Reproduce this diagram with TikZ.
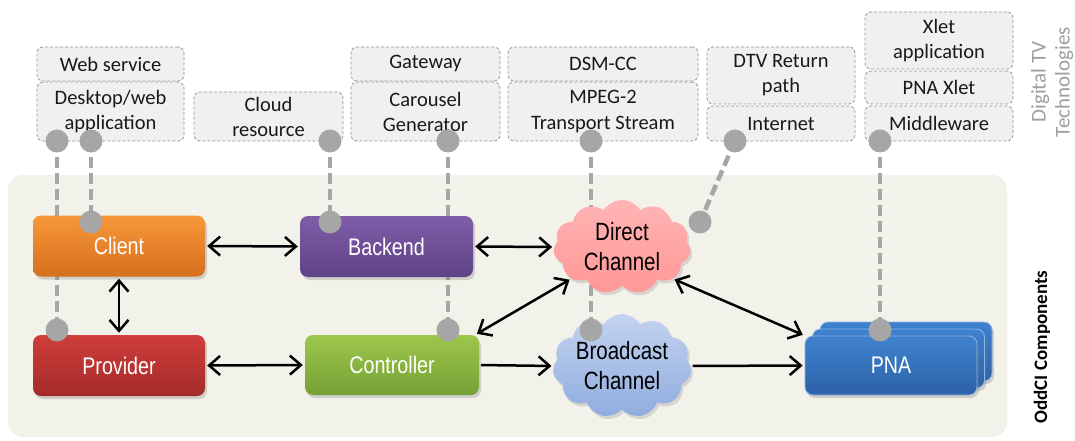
\documentclass[tikz,border=0pt]{standalone}
\usepackage{fontspec}
\setmainfont{Carlito}
\newfontfamily\narrowfont[FakeStretch=0.82]{Liberation Sans}
\usetikzlibrary{arrows.meta,shapes.symbols,shadows}
\definecolor{bgc}{HTML}{F2F1EA}
\definecolor{dotc}{HTML}{A6A6A6}
\definecolor{boxf}{HTML}{F0F0F0}
\definecolor{boxd}{HTML}{959595}
\definecolor{clT}{HTML}{F8973A}\definecolor{clB}{HTML}{D5701E}
\definecolor{beT}{HTML}{7F5DA9}\definecolor{beB}{HTML}{5F4285}
\definecolor{prT}{HTML}{CF3E3B}\definecolor{prB}{HTML}{A32A28}
\definecolor{coT}{HTML}{9DC74B}\definecolor{coB}{HTML}{76A035}
\definecolor{pnT}{HTML}{3F82CE}\definecolor{pnB}{HTML}{2C62A8}
\definecolor{diT}{HTML}{FFB4B4}\definecolor{diB}{HTML}{FF9797}
\definecolor{brT}{HTML}{C3D3EF}\definecolor{brB}{HTML}{90ACDF}
\tikzset{
  techbox/.style={draw=boxd, fill=boxf, line width=0.8pt, dash pattern=on 3pt off 2pt,
    rounded corners=6pt, align=center, font=\fontsize{20.5}{25}\selectfont, text=black!90, inner sep=0pt},
  comp/.style={rounded corners=8pt, minimum width=172, minimum height=61, inner sep=0pt,
    font=\narrowfont\fontsize{24}{29}\selectfont, text=white,
    drop shadow={opacity=0.3, shadow xshift=2pt, shadow yshift=-3pt}},
  chan/.style={cloud, cloud puffs=11, cloud puff arc=115, aspect=1.5, inner sep=0pt,
    minimum width=137, minimum height=94, align=center,
    font=\narrowfont\fontsize{25}{30}\selectfont, text=black,
    drop shadow={opacity=0.25, shadow xshift=2pt, shadow yshift=-3pt}},
  dot/.style={circle, fill=dotc, minimum size=23, inner sep=0pt},
  link/.style={draw=dotc, line width=4.5pt, dash pattern=on 11pt off 5pt},
  barb/.tip={Straight Barb[length=11pt,width=19pt]},
  arr/.style={line width=2.5pt, black, shorten <=2pt, shorten >=2pt},
}
\begin{document}
\begin{tikzpicture}[x=1pt,y=-1pt]
\useasboundingbox (0,0) rectangle (1075,441);
% background
\fill[bgc, rounded corners=15pt] (8,175) rectangle (1007,437);
% top technology boxes
\node[techbox, minimum width=147, minimum height=34] (web) at (110.5,64) {Web service};
\node[techbox, minimum width=147, minimum height=59] (desk) at (110.5,111.5) {Desktop/web\\application};
\node[techbox, minimum width=149, minimum height=49] (cres) at (268.5,116.5) {Cloud\\resource};
\node[techbox, minimum width=149, minimum height=34] (gate) at (425.5,64) {Gateway};
\node[techbox, minimum width=149, minimum height=59] (car) at (425.5,111.5) {Carousel\\Generator};
\node[techbox, minimum width=190, minimum height=34] (dsm) at (603,64) {DSM-CC};
\node[techbox, minimum width=190, minimum height=59] (mpeg) at (603,111.5) {MPEG-2\\Transport Stream};
\node[techbox, minimum width=148, minimum height=57] (dtv) at (781,75.5) {DTV Return\\path};
\node[techbox, minimum width=148, minimum height=35] (inet) at (781,123.5) {Internet};
\node[techbox, minimum width=148, minimum height=57] (xlet) at (939,40.5) {Xlet\\application};
\node[techbox, minimum width=148, minimum height=33] (pnax) at (939,87.5) {PNA Xlet};
\node[techbox, minimum width=148, minimum height=35] (mid) at (939,123.5) {Middleware};
% side labels
\node[rotate=90, align=center, text=black!38, font=\fontsize{21}{24}\selectfont] (dtvlab) at (1052,82) {Digital TV\\Technologies};
\node[rotate=90, font=\bfseries\fontsize{19}{23}\selectfont] (oddlab) at (1042,347) {OddCI Components};
% dot anchors
\coordinate (t1) at (57,141); \coordinate (b1) at (57,330);
\coordinate (t2) at (91,141); \coordinate (b2) at (91,222);
\coordinate (t3) at (330,141); \coordinate (b3) at (330,222);
\coordinate (t4) at (448,141); \coordinate (b4) at (448,330);
\coordinate (t5) at (591,141); \coordinate (b5) at (591,330);
\coordinate (t6) at (735,141); \coordinate (b6) at (700,222);
\coordinate (t7) at (880,141); \coordinate (b7) at (880,330);
\foreach \i in {1,...,7} { \draw[link] (t\i) -- (b\i); }
% components
\node[comp, top color=clT, bottom color=clB] (client) at (119,246) {Client};
\node[comp, top color=beT, bottom color=beB, minimum width=173] (backend) at (386.5,246.5) {Backend};
\node[comp, top color=prT, bottom color=prB] (provider) at (119,365.5) {Provider};
\node[comp, top color=coT, bottom color=coB, minimum width=174, minimum height=60] (controller) at (392,365) {Controller};
\node[chan, top color=diT, bottom color=diB] (direct) at (622,247) {Direct\\Channel};
\node[chan, top color=brT, bottom color=brB, minimum height=96] (broadcast) at (622,366) {Broadcast\\Channel};
\node[comp, top color=pnT, bottom color=pnB, draw=pnT!60!white, line width=0.8pt, minimum height=59] (pnaback) at (906,351.5) {};
\node[comp, top color=pnT, bottom color=pnB, draw=pnT!60!white, line width=0.8pt, minimum height=59] (pnamid) at (898.5,358.5) {};
\node[comp, top color=pnT, bottom color=pnB, draw=pnT!60!white, line width=0.8pt, minimum height=59] (pna) at (891,365.5) {PNA};
% dots
\foreach \i in {1,...,7} { \node[dot] (dt\i) at (t\i) {}; \node[dot] (db\i) at (b\i) {}; }
% arrows
\draw[arr, barb-barb] (client.east) -- (backend.west);
\draw[arr, barb-barb] (backend.east) -- (direct.west);
\draw[arr, barb-barb] (client.south) -- (provider.north);
\draw[arr, barb-barb] (provider.east) -- (controller.west);
\draw[arr, -barb] (controller.east) -- (broadcast.west);
\draw[arr, -barb] (broadcast.east) -- (pna.west);
\draw[arr, barb-barb] ([xshift=-4pt]controller.north east) -- (direct.212);
\draw[arr, barb-barb] (direct.-32) -- (pna.north west);
\end{tikzpicture}
\end{document}
